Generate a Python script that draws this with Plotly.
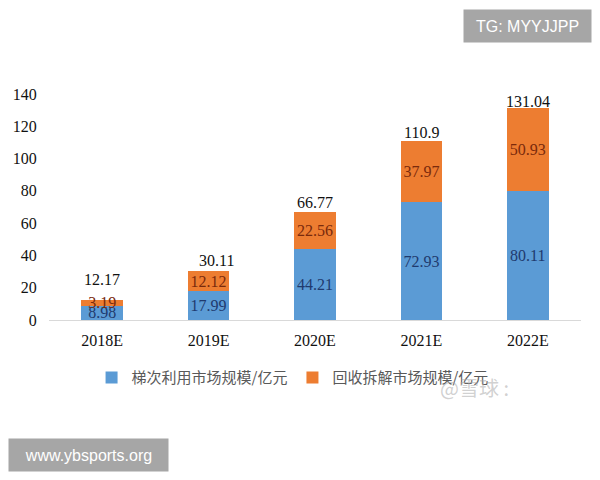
import plotly.graph_objects as go

categories = ["2018E", "2019E", "2020E", "2021E", "2022E"]
cascade_use = [8.98, 17.99, 44.21, 72.93, 80.11]
recycle = [3.19, 12.12, 22.56, 37.97, 50.93]
totals = [12.17, 30.11, 66.77, 110.9, 131.04]
y_ticks = [0, 20, 40, 60, 80, 100, 120, 140]

name_cascade = "梯次利用市场规模/亿元"
name_recycle = "回收拆解市场规模/亿元"

# label offsets (pixels) for the total labels
total_yshift = [21, 11, 10, 8, 7]
total_xshift = [0, 8, 0, 0, 0]

BLUE = "#5B9BD5"
ORANGE = "#ED7D31"
SERIF = "Liberation Serif, Times New Roman, serif"

fig = go.Figure()
fig.add_trace(go.Bar(
    x=categories, y=cascade_use, name=name_cascade,
    marker=dict(color=BLUE, line=dict(width=0)),
    width=0.39,
    text=[f"{v:g}" for v in cascade_use],
    textposition="inside", insidetextanchor="middle", constraintext="none",
    textangle=0,
    textfont=dict(family=SERIF, size=16, color="#1F3A6E"),
))
fig.add_trace(go.Bar(
    x=categories, y=recycle, name=name_recycle,
    marker=dict(color=ORANGE, line=dict(width=0)),
    width=0.39,
    text=[f"{v:g}" for v in recycle],
    textposition="inside", insidetextanchor="middle", constraintext="none",
    textangle=0,
    textfont=dict(family=SERIF, size=16, color="#7A2A0C"),
))

for i, (c, t) in enumerate(zip(categories, totals)):
    fig.add_annotation(
        x=c, y=t, text=f"{t:g}", showarrow=False,
        yanchor="middle", yshift=total_yshift[i], xshift=total_xshift[i],
        font=dict(family=SERIF, size=16, color="#111111"),
    )

# watermark boxes
fig.add_annotation(
    xref="paper", yref="paper", x=0.899, y=1.303,
    text="TG: MYYJJPP", showarrow=False, width=125, height=30,
    bgcolor="#a6a6a6", font=dict(family="Liberation Sans, Arial", size=16, color="white"),
    xanchor="center", yanchor="middle",
)
fig.add_annotation(
    xref="paper", yref="paper", x=0.0742, y=-0.596,
    text="www.ybsports.org", showarrow=False, width=157, height=30,
    bgcolor="#a6a6a6", font=dict(family="Liberation Sans, Arial", size=16, color="white"),
    xanchor="center", yanchor="middle",
)
fig.add_annotation(
    xref="paper", yref="paper", x=0.80, y=-0.30,
    text="@雪球 :", showarrow=False,
    font=dict(family="Noto Sans CJK SC", size=20, color="rgba(170,170,170,0.55)"),
    xanchor="center", yanchor="middle",
)

fig.update_layout(
    barmode="stack",
    width=600, height=480,
    margin=dict(l=49, r=19, t=94, b=160),
    paper_bgcolor="white", plot_bgcolor="white",
    uniformtext=dict(minsize=16, mode="show"),
    showlegend=True,
    legend=dict(
        orientation="h", x=0.08, y=-0.256, xanchor="left", yanchor="middle",
        font=dict(family="Noto Sans CJK SC", size=15, color="#595959"),
        traceorder="normal", itemwidth=30,
    ),
    xaxis=dict(
        showline=True, linecolor="#d9d9d9", linewidth=1,
        ticks="outside", ticklen=6, tickcolor="rgba(0,0,0,0)",
        tickfont=dict(family=SERIF, size=16, color="#111111"),
        showgrid=False, zeroline=False,
    ),
    yaxis=dict(
        range=[0, 140], tickvals=y_ticks,
        showline=False, showgrid=False, zeroline=False,
        ticks="outside", ticklen=8, tickcolor="rgba(0,0,0,0)",
        tickfont=dict(family=SERIF, size=16, color="#111111"),
    ),
)

fig.write_html("out.html")
